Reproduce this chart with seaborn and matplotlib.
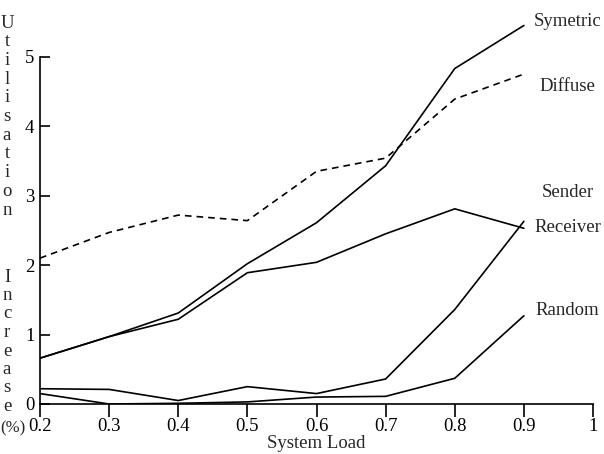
import matplotlib
matplotlib.use("Agg")
import matplotlib.pyplot as plt
import seaborn as sns
import pandas as pd

# values
loads = [0.2, 0.3, 0.4, 0.5, 0.6, 0.7, 0.8, 0.9]
symetric = [0.66, 0.97, 1.31, 2.02, 2.61, 3.43, 4.83, 5.45]
diffuse = [2.10, 2.47, 2.72, 2.64, 3.35, 3.54, 4.39, 4.75]
sender = [0.66, 0.97, 1.22, 1.89, 2.04, 2.45, 2.81, 2.53]
receiver = [0.22, 0.21, 0.05, 0.25, 0.15, 0.36, 1.36, 2.63]
random_ = [0.15, 0.0, 0.01, 0.03, 0.10, 0.11, 0.37, 1.27]
x_ticks = [0.2, 0.3, 0.4, 0.5, 0.6, 0.7, 0.8, 0.9, 1.0]
x_tick_labels = ["0.2", "0.3", "0.4", "0.5", "0.6", "0.7", "0.8", "0.9", "1"]
y_ticks = [0, 1, 2, 3, 4, 5]

sns.set_style("ticks")
plt.rcParams['font.family'] = ['Liberation Serif', 'DejaVu Serif']
fs = 13.5

series = {
    "Symetric": (symetric, "-"),
    "Diffuse": (diffuse, (0, (4, 3))),
    "Sender": (sender, "-"),
    "Receiver": (receiver, "-"),
    "Random": (random_, "-"),
}

fig = plt.figure(figsize=(6.04, 4.54), dpi=100)
ax = fig.add_axes([40 / 604, 1 - 404 / 454, 553 / 604, 382 / 454])

for name, (vals, ls) in series.items():
    df = pd.DataFrame({"load": loads, "value": vals})
    sns.lineplot(data=df, x="load", y="value", color="black", linewidth=1.2,
                 linestyle=ls, ax=ax)

# curve labels at the right-hand end
label_pos = {"Symetric": 5.5, "Diffuse": 4.57, "Sender": 3.04,
             "Receiver": 2.54, "Random": 1.34}
for name, yv in label_pos.items():
    ax.text(0.963, yv, name, fontsize=fs, ha="center", va="center", clip_on=False)

ax.set_xlim(0.2, 1.0)
ax.set_ylim(0, 5.5)
ax.spines['top'].set_visible(False)
ax.spines['right'].set_visible(False)
ax.spines['left'].set_bounds(0, 5)
ax.spines['bottom'].set_bounds(0.2, 1.0)
for s in ax.spines.values():
    s.set_linewidth(1.2)
    s.set_color("black")

ax.set_xticks(x_ticks)
ax.set_xticklabels(x_tick_labels, fontsize=fs)
ax.set_yticks(y_ticks)
ax.set_yticklabels([str(v) for v in y_ticks], fontsize=fs)
ax.tick_params(axis='x', direction='out', length=9, width=1.2, pad=1, colors="black")
ax.tick_params(axis='y', direction='in', length=7, width=1.2, pad=4, colors="black")
ax.set_xlabel("System Load", fontsize=fs, labelpad=0)
ax.set_ylabel("")

# stacked vertical y-axis title
for i, ch in enumerate("Utilisation"):
    fig.text(7 / 604, 1 - (23 + i * 18.7) / 454, ch, fontsize=fs, ha="center", va="center")
for i, ch in enumerate("Increase"):
    fig.text(7 / 604, 1 - (277 + i * 18.5) / 454, ch, fontsize=fs, ha="center", va="center")
fig.text(0.5 / 604, 1 - 428 / 454, "(%)", fontsize=12, ha="left", va="center")

fig.savefig("out.png", dpi=100)
